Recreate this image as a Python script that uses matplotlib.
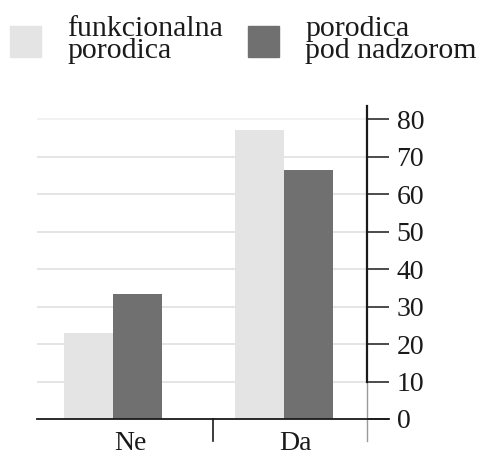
import matplotlib
matplotlib.use("Agg")
import matplotlib.pyplot as plt
from matplotlib.patches import Rectangle
import matplotlib.transforms as mtransforms
import numpy as np

plt.rcParams['font.family'] = ['Liberation Serif', 'DejaVu Serif']

categories = ['Ne', 'Da']
funkcionalna = [23, 77]
nadzor = [33.4, 66.5]
series_labels = ['funkcionalna\nporodica', 'porodica\npod nadzorom']
colors = ['#e4e4e4', '#707070']
yticks = [0, 10, 20, 30, 40, 50, 60, 70, 80]

W, H = 488, 459
fig = plt.figure(figsize=(W / 100, H / 100), dpi=100)
ax = fig.add_axes([37 / W, (H - 419) / H, 330 / W, 313 / H])

x = np.arange(len(categories))
bw = 0.286
ax.bar(x - bw / 2, funkcionalna, bw, color=colors[0], zorder=2)
ax.bar(x + bw / 2, nadzor, bw, color=colors[1], zorder=2)

ax.set_xlim(-0.444, 1.485)
ax.set_ylim(0, 83.5)

# gridlines
for v in yticks[1:]:
    ax.axhline(v, color='#eeeeee' if v == 80 else '#dedede', lw=1.1, zorder=1)

for s in ['top', 'left', 'bottom']:
    ax.spines[s].set_visible(False)
ax.spines['right'].set_bounds(10, 83.5)
ax.spines['right'].set_linewidth(1.6)
ax.spines['right'].set_color('#1a1a1a')

ax.yaxis.tick_right()
ax.set_yticks(yticks)
ax.set_yticklabels([str(v) for v in yticks])
ax.tick_params(axis='y', length=15.8, width=1.1, pad=5.5, labelsize=20,
               colors='#1a1a1a')
for t in ax.yaxis.get_major_ticks():
    if t.get_loc() == 80:
        t.tick2line.set_color('#999999')

# category labels
ax.set_xticks([0.1, 1.064])
ax.set_xticklabels(categories)
ax.tick_params(axis='x', length=0, pad=9, labelsize=20, colors='#1a1a1a')

# baseline and separators
ax.plot([-0.444, 1.614], [0, 0], color='#1a1a1a', lw=1.3, clip_on=False, zorder=3)
trans = mtransforms.blended_transform_factory(ax.transData, fig.transFigure)
ax.plot([0.585, 0.585], [(H - 419) / H, (H - 441) / H], color='#1a1a1a', lw=1.2,
        transform=trans, clip_on=False)
ax.plot([1.485, 1.485], [(H - 381) / H, (H - 441) / H], color='#999999', lw=1.0,
        transform=trans, clip_on=False)

# legend
for i, (px, tx) in enumerate([(10, 67), (248, 305)]):
    fig.patches.append(Rectangle((px / W, (H - 57) / H), 31 / W, 31 / H,
                                 color=colors[i], transform=fig.transFigure))
    fig.text(tx / W, (H - 40) / H, series_labels[i], fontsize=21.5, va='center',
             ha='left', linespacing=0.82, color='#1a1a1a')

fig.savefig('out.png', dpi=100)
